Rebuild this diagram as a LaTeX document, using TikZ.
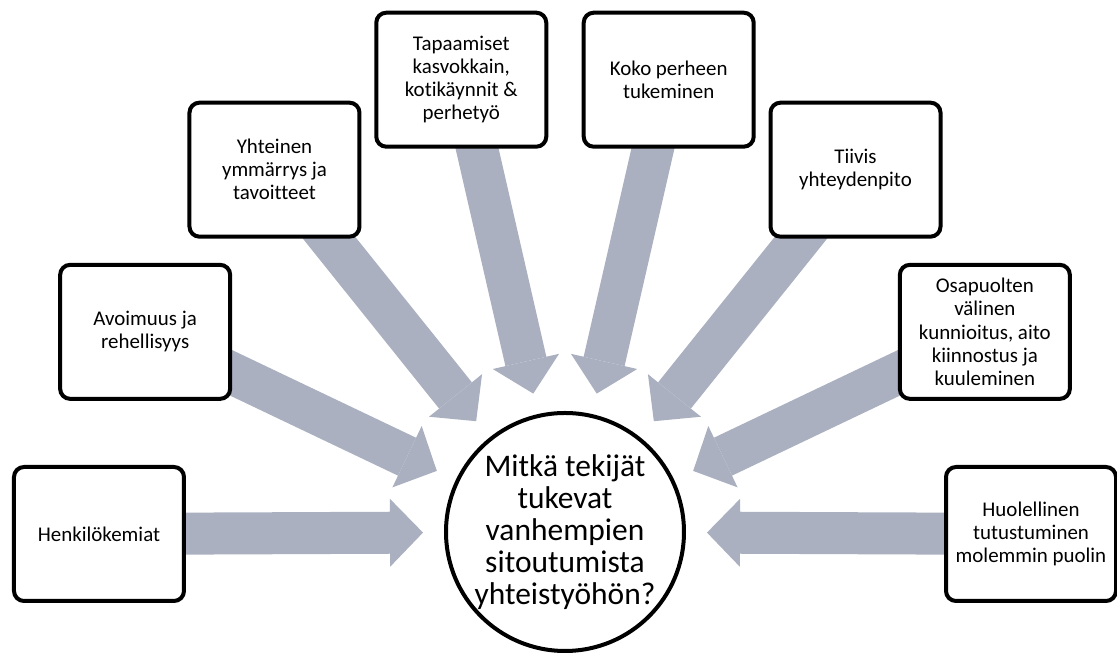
\documentclass[tikz,border=0pt]{standalone}
\usepackage{fontspec}
\setmainfont{Carlito}[Ligatures=NoCommon]
\usetikzlibrary{arrows.meta, backgrounds}
\definecolor{arrowgray}{RGB}{170,176,192}
\tikzstyle{rect} = [rectangle, rounded corners=7.5pt, minimum width=127.5pt, minimum height=100.5pt, text centered, align=center, draw=black, line width=3pt, fill=white, inner sep=2pt, font=\fontsize{15.7pt}{17.3pt}\selectfont]
\tikzstyle{hub} = [circle, minimum size=178.5pt, text centered, align=center, draw=black, line width=3pt, fill=white, inner sep=0pt, font=\fontsize{23.6pt}{24pt}\selectfont]
\tikzstyle{arrow} = [draw=arrowgray, line width=31.5pt, -{Triangle[length=24.75pt, width=51pt, line width=0pt]}, shorten >=15.75pt]

\begin{document}
\begin{tikzpicture}[x=0.75pt, y=0.75pt]
    \useasboundingbox (-565,-121) rectangle (552,534);
    \node (c0) [hub] at (0,2) {Mitkä tekijät\\tukevat\\vanhempien\\sitoutumista\\yhteistyöhön?};
    \node (f1) [rect] at (180:466) {Henkilökemiat};
    \node (f2) [rect] at (154.29:466) {Avoimuus ja\\rehellisyys};
    \node (f3) [rect] at (128.57:466) {Yhteinen\\ymmärrys ja\\tavoitteet};
    \node (f4) [rect] at (102.86:466) {Tapaamiset\\kasvokkain,\\kotikäynnit \&\\perhetyö};
    \node (f5) [rect] at (77.14:466) {Koko perheen\\tukeminen};
    \node (f6) [rect] at (51.43:466) {Tiivis\\yhteydenpito};
    \node (f7) [rect] at (25.71:466) {Osapuolten\\välinen\\kunnioitus, aito\\kiinnostus ja\\kuuleminen};
    \node (f8) [rect] at (0:466) {Huolellinen\\tutustuminen\\molemmin puolin};
    \begin{pgfonlayer}{background}
    \draw [arrow] (f1.center) -- (c0);
    \draw [arrow] (f2.center) -- (c0);
    \draw [arrow] (f3.center) -- (c0);
    \draw [arrow] (f4.center) -- (c0);
    \draw [arrow] (f5.center) -- (c0);
    \draw [arrow] (f6.center) -- (c0);
    \draw [arrow] (f7.center) -- (c0);
    \draw [arrow] (f8.center) -- (c0);
    \end{pgfonlayer}
\end{tikzpicture}
\end{document}
